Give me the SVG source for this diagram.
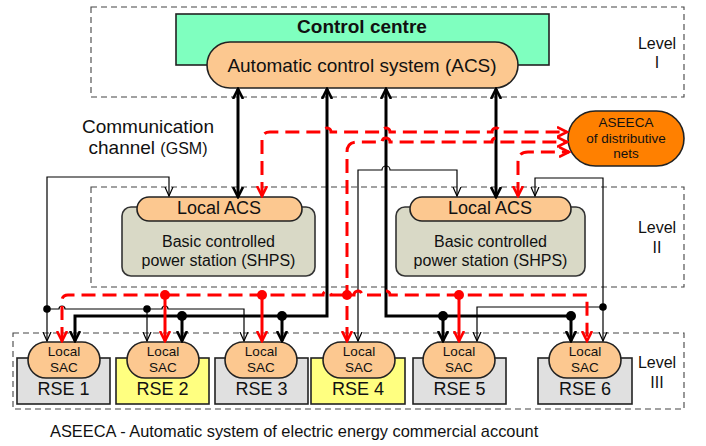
<svg xmlns="http://www.w3.org/2000/svg" width="706" height="446" viewBox="0 0 706 446">
<style>
text{font-family:"Liberation Sans",Arial,sans-serif;fill:#111;text-anchor:middle}
.lvl{fill:none;stroke:#444;stroke-width:1.1;stroke-dasharray:6 4}
.peach{fill:#FCC890;stroke:#222;stroke-width:1.6}
.gray{fill:#E0E0E0;stroke:#222;stroke-width:1.6}
.yel{fill:#FFFF80;stroke:#222;stroke-width:1.6}
.tan{fill:#D9D9C6;stroke:#333;stroke-width:1.6}
.thick{fill:none;stroke:#000;stroke-width:3}
.thin{fill:none;stroke:#000;stroke-width:1.2}
.red{fill:none;stroke:#FF0000;stroke-width:3;stroke-dasharray:14 7}
.reds{fill:none;stroke:#FF0000;stroke-width:3}
</style>
<defs>
<marker id="ak" viewBox="0 0 12 12" refX="10" refY="6" markerWidth="12" markerHeight="12" markerUnits="userSpaceOnUse" orient="auto-start-reverse"><path d="M0,1 L10,6 L0,11" fill="none" stroke="#000" stroke-width="2.6"/></marker>
<marker id="at" viewBox="0 0 10 10" refX="9" refY="5" markerWidth="10" markerHeight="10" markerUnits="userSpaceOnUse" orient="auto-start-reverse"><path d="M0,1 L9,5 L0,9" fill="none" stroke="#000" stroke-width="1.2"/></marker>
<marker id="ar" viewBox="0 0 12 12" refX="10" refY="6" markerWidth="12" markerHeight="12" markerUnits="userSpaceOnUse" orient="auto-start-reverse"><path d="M0,1 L10,6 L0,11" fill="none" stroke="#FF0000" stroke-width="2.6"/></marker>
</defs>

<g id="levels">
<rect class="lvl" x="91" y="7" width="593" height="90"/>
<rect class="lvl" x="91" y="187" width="593" height="100"/>
<rect class="lvl" x="13" y="333" width="671" height="76"/>
<text x="657" y="49" font-size="16">Level</text>
<text x="657" y="68" font-size="16">I</text>
<text x="657" y="233" font-size="16">Level</text>
<text x="657" y="253" font-size="16">II</text>
<text x="657" y="368" font-size="16">Level</text>
<text x="657" y="388" font-size="16">III</text>
</g>

<g id="control-centre">
<rect x="176" y="14" width="373" height="51" fill="#7FFFBF" stroke="#222" stroke-width="1.6"/>
<text x="362" y="33" font-size="19" font-weight="bold">Control centre</text>
</g>
<g id="acs">
<rect class="peach" x="207" y="42" width="311" height="46" rx="23"/>
<text x="362" y="72" font-size="19">Automatic control system (ACS)</text>
</g>

<g id="comm-label">
<text x="148" y="133" font-size="19">Communication</text>
<text x="148" y="154" font-size="19">channel <tspan font-size="16">(GSM)</tspan></text>
</g>

<g id="aseeca">
<rect x="568" y="111" width="116" height="55" rx="27.5" fill="#FF8000" stroke="#222" stroke-width="1.6"/>
<text x="626" y="127" font-size="13.5">ASEECA</text>
<text x="626" y="143" font-size="13.5">of distributive</text>
<text x="626" y="158" font-size="13.5">nets</text>
</g>

<g id="shps-left">
<rect class="tan" x="122" y="207" width="193" height="69" rx="9"/>
<rect class="peach" x="137" y="197" width="165" height="24" rx="12"/>
<text x="219" y="214" font-size="18">Local ACS</text>
<text x="218.5" y="247" font-size="16">Basic controlled</text>
<text x="218.5" y="266" font-size="16">power station (SHPS)</text>
</g>
<g id="shps-right">
<rect class="tan" x="396" y="207" width="189" height="69" rx="9"/>
<rect class="peach" x="410" y="197" width="161" height="24" rx="12"/>
<text x="490" y="214" font-size="18">Local ACS</text>
<text x="490.5" y="247" font-size="16">Basic controlled</text>
<text x="490.5" y="266" font-size="16">power station (SHPS)</text>
</g>

<g id="rse1">
<rect class="gray" x="17" y="358" width="93" height="46"/>
<rect class="peach" x="28" y="342" width="72" height="36" rx="18"/>
<text x="64" y="356" font-size="13.5">Local</text>
<text x="64" y="372" font-size="13.5">SAC</text>
<text x="63.5" y="395" font-size="18">RSE 1</text>
</g>
<g id="rse2">
<rect class="yel" x="116" y="358" width="93" height="46"/>
<rect class="peach" x="127" y="342" width="72" height="36" rx="18"/>
<text x="163" y="356" font-size="13.5">Local</text>
<text x="163" y="372" font-size="13.5">SAC</text>
<text x="162.5" y="395" font-size="18">RSE 2</text>
</g>
<g id="rse3">
<rect class="gray" x="215" y="358" width="93" height="46"/>
<rect class="peach" x="225" y="342" width="72" height="36" rx="18"/>
<text x="261" y="356" font-size="13.5">Local</text>
<text x="261" y="372" font-size="13.5">SAC</text>
<text x="261.5" y="395" font-size="18">RSE 3</text>
</g>
<g id="rse4">
<rect class="yel" x="311" y="358" width="94" height="46"/>
<rect class="peach" x="323" y="342" width="72" height="36" rx="18"/>
<text x="359" y="356" font-size="13.5">Local</text>
<text x="359" y="372" font-size="13.5">SAC</text>
<text x="358" y="395" font-size="18">RSE 4</text>
</g>
<g id="rse5">
<rect class="gray" x="413" y="358" width="93" height="46"/>
<rect class="peach" x="423" y="342" width="72" height="36" rx="18"/>
<text x="459" y="356" font-size="13.5">Local</text>
<text x="459" y="372" font-size="13.5">SAC</text>
<text x="459.5" y="395" font-size="18">RSE 5</text>
</g>
<g id="rse6">
<rect class="gray" x="538" y="358" width="94" height="46"/>
<rect class="peach" x="549" y="342" width="72" height="36" rx="18"/>
<text x="585" y="356" font-size="13.5">Local</text>
<text x="585" y="372" font-size="13.5">SAC</text>
<text x="585" y="395" font-size="18">RSE 6</text>
</g>

<g id="connectors">
<!-- thick black -->
<path class="thick" d="M238,89 V197" marker-start="url(#ak)" marker-end="url(#ak)"/>
<path class="thick" d="M496,89 V197" marker-start="url(#ak)" marker-end="url(#ak)"/>
<path class="thick" d="M327,89 V316 H75 V341" marker-start="url(#ak)" marker-end="url(#ak)"/>
<path class="thick" d="M182,316 V341" marker-end="url(#ak)"/>
<path class="thick" d="M282,316 V341" marker-end="url(#ak)"/>
<path class="thick" d="M386,89 V316 H571 V341" marker-start="url(#ak)" marker-end="url(#ak)"/>
<path class="thick" d="M443,316 V341" marker-end="url(#ak)"/>
<g fill="#000">
<circle cx="182" cy="316" r="5"/><circle cx="282" cy="316" r="5"/>
<circle cx="443" cy="316" r="5"/><circle cx="571" cy="316" r="5"/>
</g>
<!-- thin black -->
<path class="thin" d="M47,341 V177 H169 V196" marker-start="url(#at)" marker-end="url(#at)"/>
<path class="thin" d="M47,309 H59 a3,3 0 0 1 6,0 H162 a3,3 0 0 1 6,0 H244 V341" marker-end="url(#at)"/>
<path class="thin" d="M147,309 V341" marker-end="url(#at)"/>
<path class="thin" d="M457,196 V170 H390 a4,4 0 0 0 -8,0 H358 V341" marker-start="url(#at)" marker-end="url(#at)"/>
<path class="thin" d="M535,196 V178 H603 V341" marker-start="url(#at)" marker-end="url(#at)"/>
<path class="thin" d="M603,307 H477 V341" marker-end="url(#at)"/>
<g fill="#000">
<circle cx="47" cy="309" r="3.8"/><circle cx="147" cy="309" r="3.8"/><circle cx="603" cy="307" r="3.8"/>
</g>
<!-- red dashed -->
<path class="red" d="M262,196 V140 Q262,132 270,132 H323 a4,4 0 0 1 8,0 H382 a4,4 0 0 1 8,0 H492 a4,4 0 0 1 8,0 H567" marker-start="url(#ar)" marker-end="url(#ar)"/>
<path class="red" d="M347,341 V152 Q347,142 357,142 H382 a4,4 0 0 1 8,0 H492 a4,4 0 0 1 8,0 H567" marker-start="url(#ar)" marker-end="url(#ar)"/>
<path class="red" d="M518,196 V162 Q518,152 528,152 H569" marker-start="url(#ar)" marker-end="url(#ar)"/>
<path class="red" d="M62,341 V301 Q62,295 68,295 H323 a4,4 0 0 1 8,0 H354 a4,4 0 0 1 8,0 H382 a4,4 0 0 1 8,0 H587 V341" marker-start="url(#ar)" marker-end="url(#ar)"/>
<path class="reds" d="M165,295 V341" marker-end="url(#ar)"/>
<path class="reds" d="M262,295 V341" marker-end="url(#ar)"/>
<path class="reds" d="M459,295 V341" marker-end="url(#ar)"/>
<g fill="#FF0000">
<circle cx="165" cy="295" r="5"/><circle cx="262" cy="295" r="5"/>
<circle cx="347" cy="295" r="5"/><circle cx="459" cy="295" r="5"/>
</g>
</g>

<g id="caption">
<text x="50" y="437" font-size="16.4" style="text-anchor:start">ASEECA - Automatic system of electric energy commercial account</text>
</g>
</svg>
